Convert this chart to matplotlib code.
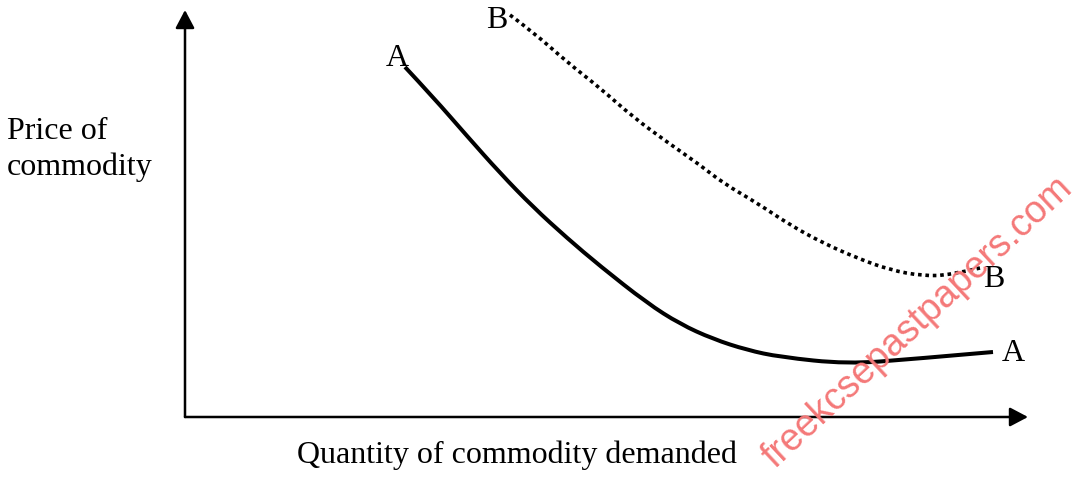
import matplotlib
matplotlib.use("Agg")
import matplotlib.pyplot as plt
from matplotlib.path import Path
from matplotlib.patches import PathPatch

# ---- data (x = quantity, y = price; origin at the axes corner) ----
curve_a_x = [220, 248, 282, 315, 348, 382, 415, 462, 495, 528, 562, 595, 662, 728, 808]
curve_a_y = [350, 320, 281, 244, 210, 179, 151, 114, 93, 78, 67, 60, 53, 58, 65]

curve_b_x = [325, 348, 382, 415, 448, 482, 515, 538, 572, 605, 638, 672, 705, 738, 765, 795]
curve_b_y = [402, 385, 355, 329, 300, 275, 252, 234, 214, 192, 174, 159, 147, 141, 142, 149]

y_label_lines = ["Price of", "commodity"]
x_label = "Quantity of commodity demanded"
curve_labels = ["A", "B"]
watermark = "freekcsepastpapers.com"


def smooth_path(xs, ys):
    """Quadratic B-spline style path through the read points (drawn by matplotlib)."""
    pts = list(zip(xs, ys))
    verts = [pts[0]]
    codes = [Path.MOVETO]
    n = len(pts)
    for i in range(1, n - 2):
        mid = ((pts[i][0] + pts[i + 1][0]) / 2, (pts[i][1] + pts[i + 1][1]) / 2)
        verts += [pts[i], mid]
        codes += [Path.CURVE3, Path.CURVE3]
    verts += [pts[n - 2], pts[n - 1]]
    codes += [Path.CURVE3, Path.CURVE3]
    return Path(verts, codes)


# ---- figure ----
W, H = 1090, 480
fig = plt.figure(figsize=(W / 100, H / 100), dpi=100)
ax = fig.add_axes([0, 0, 1, 1])
ox, oy = 185, 417  # pixel position of origin
ax.set_xlim(-ox, W - ox)
ax.set_ylim(oy - H, oy)
ax.axis("off")

serif = "Liberation Serif"
fs = 23

# axes with arrows
arrow_kw = dict(arrowstyle="-|>,head_length=0.55,head_width=0.29", mutation_scale=20,
                lw=1.8, color="black", shrinkA=0, shrinkB=0)
ax.annotate("", xy=(1028 - ox, 0), xytext=(0, 0), arrowprops=arrow_kw)
ax.annotate("", xy=(0, oy - 10), xytext=(0, 0), arrowprops=arrow_kw)

# curves
ax.add_patch(PathPatch(smooth_path(curve_a_x, curve_a_y), fill=False, edgecolor="black",
                       lw=2.9, capstyle="butt", joinstyle="round"))
ax.add_patch(PathPatch(smooth_path(curve_b_x, curve_b_y), fill=False, edgecolor="black",
                       lw=2.6, linestyle=(0, (1, 1.05)), capstyle="butt"))

# curve labels
ax.text(curve_a_x[0] - 19, curve_a_y[0] + 1, curve_labels[0], fontsize=fs, family=serif,
        ha="left", va="baseline")
ax.text(curve_a_x[-1] + 9, curve_a_y[-1] - 9, curve_labels[0], fontsize=fs, family=serif,
        ha="left", va="baseline")
ax.text(curve_b_x[0] - 24, curve_b_y[0] - 13, curve_labels[1], fontsize=fs, family=serif,
        ha="left", va="baseline")
ax.text(curve_b_x[-1] + 3, curve_b_y[-1] - 19, curve_labels[1], fontsize=fs, family=serif,
        ha="left", va="baseline")

# axis labels
ax.text(7 - ox, oy - 139, y_label_lines[0], fontsize=fs, family=serif, ha="left", va="baseline")
ax.text(7 - ox, oy - 175, y_label_lines[1], fontsize=fs, family=serif, ha="left", va="baseline")
ax.text(297 - ox, oy - 463, x_label, fontsize=fs, family=serif, ha="left", va="baseline")

# watermark
ax.text(918 - ox, oy - 322, watermark, fontsize=27, family="Liberation Sans",
        color="#f47878", rotation=43, ha="center", va="center", rotation_mode="anchor",
        zorder=5)

fig.savefig("out.png", dpi=100)
